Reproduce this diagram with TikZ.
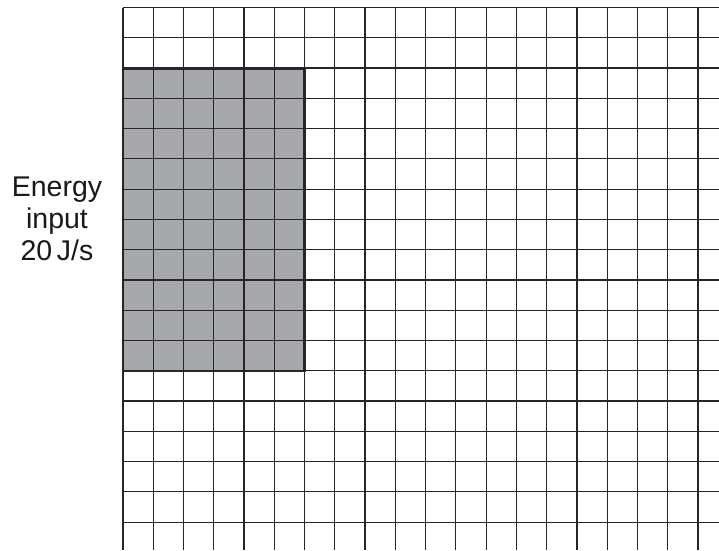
\documentclass[tikz,border=0pt]{standalone}
\usepackage{fontspec}
\setmainfont{Liberation Sans}
\usepackage{xcolor}
\definecolor{patchgray}{HTML}{A7A8AB}
\definecolor{gridink}{HTML}{262626}

\begin{document}
\begin{tikzpicture}[x=1pt, y=-1pt,
    gridline/.style={gridink, line width=1.2pt},
    patchedge/.style={gridink, line width=2.4pt}]
  \useasboundingbox (0,0) rectangle (719,550);
  % Absorbing patch (6 x 10 squares)
  \fill[patchgray] (123,68.3) rectangle (304.6,371);
  % Grid
  \foreach \i in {0,...,19}
    \draw[gridline] (123+\i*30.26,7.5) -- (123+\i*30.26,550);
  \foreach \j in {0,...,17}
    \draw[gridline] (123,7.5+\j*30.27) -- (719,7.5+\j*30.27);
  \draw[patchedge] (123,68.3) rectangle (304.6,371);
  % Label
  \node[align=center, font=\fontsize{28.5}{32}\selectfont, text=black!90] (input)
    at (57,219) {Energy\\input\\20\,J/s};
\end{tikzpicture}
\end{document}
